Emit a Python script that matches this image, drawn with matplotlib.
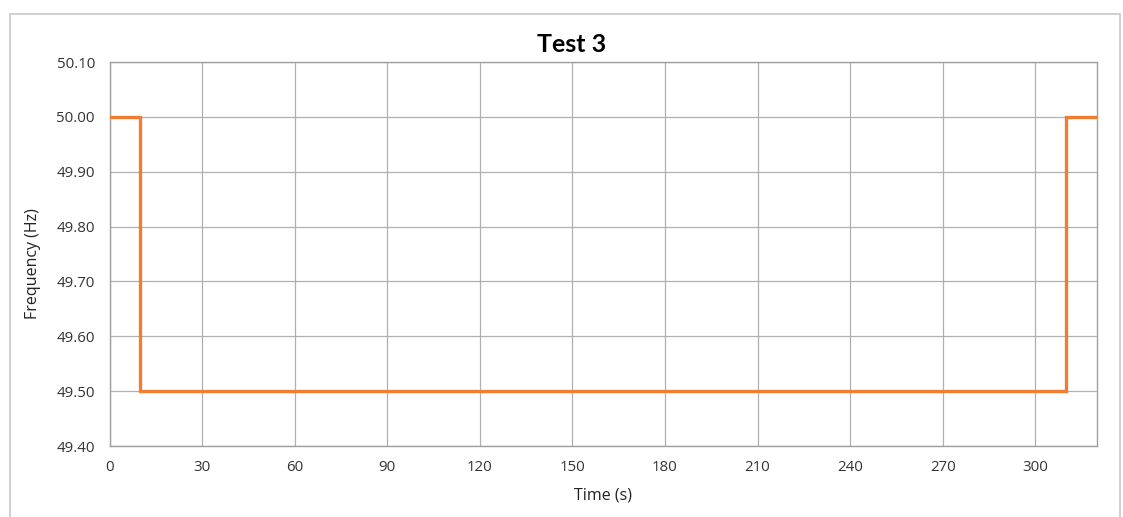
import matplotlib
matplotlib.use("Agg")
import matplotlib.pyplot as plt
from matplotlib.patches import Rectangle

# Frequency step profile
time_s = [0, 10, 10, 310, 310, 320]
freq_hz = [50.00, 50.00, 49.50, 49.50, 50.00, 50.00]

x_ticks = [0, 30, 60, 90, 120, 150, 180, 210, 240, 270, 300]
y_ticks = [49.40, 49.50, 49.60, 49.70, 49.80, 49.90, 50.00, 50.10]

plt.rcParams['font.family'] = ['Open Sans', 'DejaVu Sans']

fig = plt.figure(figsize=(11.23, 5.17), dpi=100)
ax = fig.add_axes([109.5 / 1123, 1 - 446 / 517, (1097 - 109.5) / 1123, (446 - 62) / 517])

# Outer chart border
fig.patches.append(Rectangle((10 / 1123, -0.05), (1120 - 10) / 1123, 1.05 - 14 / 517,
                             transform=fig.transFigure, fill=False,
                             edgecolor='#C8C8C8', linewidth=1.2))

ax.plot(time_s, freq_hz, color='#F07D32', linewidth=2.4, solid_joinstyle='miter', zorder=3)

ax.set_xlim(0, 320)
ax.set_ylim(49.40, 50.10)
ax.set_xticks(x_ticks)
ax.set_yticks(y_ticks)
ax.set_yticklabels([f"{v:.2f}" for v in y_ticks])
ax.tick_params(length=0, labelsize=10.8, colors='#333333')
ax.tick_params(axis='y', pad=10.5)
ax.tick_params(axis='x', pad=10)

ax.grid(True, color='#B0B0B0', linewidth=0.9)
ax.set_axisbelow(True)
for s in ax.spines.values():
    s.set_color('#A0A0A0')
    s.set_linewidth(1.0)

fig.text(572 / 1123, 1 - 45 / 517, 'Test 3', fontsize=18, fontweight='bold',
         family=['Lato', 'DejaVu Sans'], ha='center', va='center')
ax.set_xlabel('Time (s)', fontsize=11.5, color='#222222', labelpad=9)
ax.set_ylabel('Frequency (Hz)', fontsize=11.5, color='#222222')
ax.yaxis.set_label_coords(-0.069, 0.474)

fig.savefig('out.png', dpi=100)
